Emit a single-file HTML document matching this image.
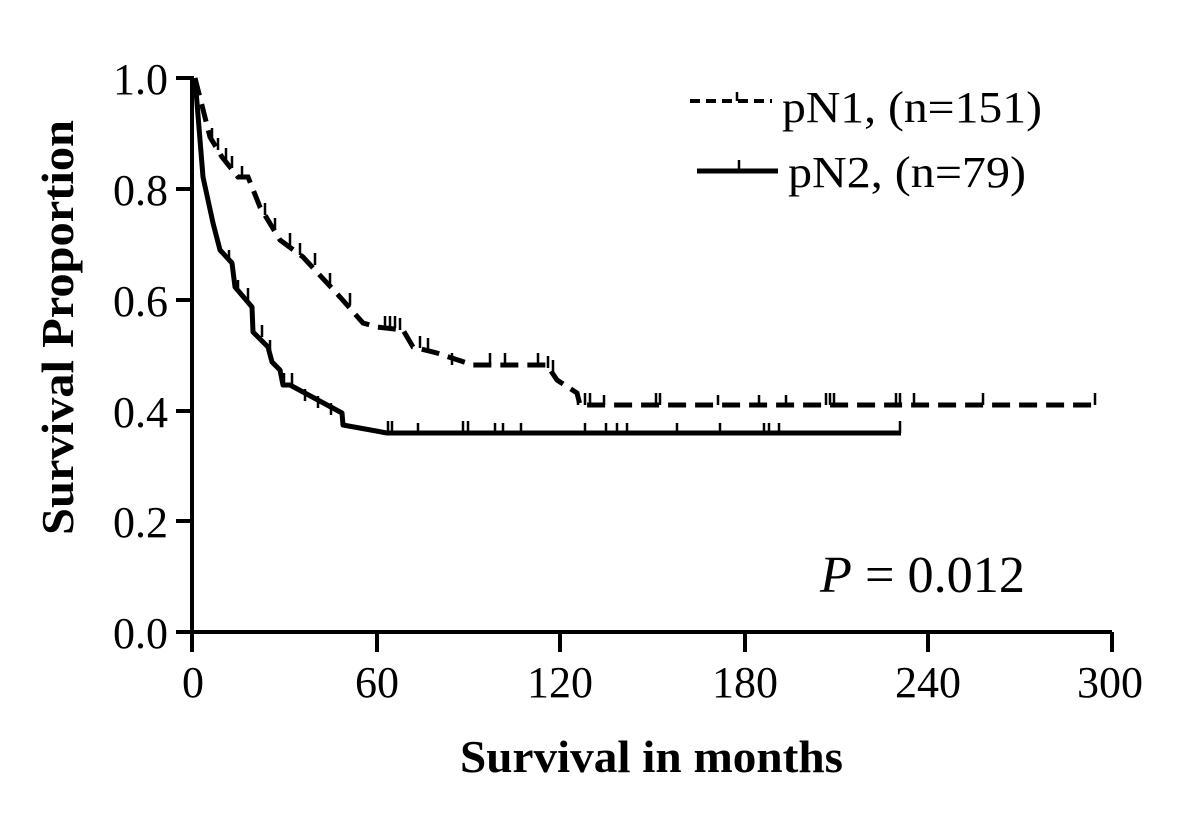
<!DOCTYPE html>
<html><head><meta charset="utf-8"><style>
body{margin:0;background:#fff}
svg{display:block}
text{font-family:"Liberation Serif",serif;fill:#000}
</style></head><body>
<svg width="1200" height="824" viewBox="0 0 1200 824">
<g stroke="#000" stroke-width="4" fill="none">
<path d="M192 76 V652"/>
<path d="M192 632 H1112"/>
<path d="M176 78 H192 M176 189 H192 M176 300 H192 M176 411 H192 M176 521 H192 M176 632 H192"/>
<path d="M192 632 V652 M377 632 V652 M560 632 V652 M745 632 V652 M928 632 V652 M1112 632 V652"/>
</g>
<g stroke="#000" stroke-width="5" fill="none" stroke-linejoin="round">
<polyline points="195,78 203,177 213,223 220,250 232,263 235,287 252,307 253,332 268,347 272,362 280,370 283,385 290,385 342,413 343,425 387,433 901,433"/>
</g>
<g stroke="#000" stroke-width="2.5">
<path d="M388 433v-12 M392 433v-12 M418 433v-10 M463 433v-12 M468 433v-12 M495 433v-10 M503 433v-10 M521 433v-10 M585 433v-10 M606 433v-10 M617 433v-10 M627 433v-10 M677 433v-10 M720 433v-10 M764 433v-10 M769 433v-10 M779 433v-10 M900 433v-12 M343 425v-12 M331 415v-12 M318 408v-12 M305 401v-12 M284 385v-12 M292 385v-12 M262 337v-12 M270 350v-10 M248 300v-12 M238 290v-10 M229 260v-10"/>
</g>
<g stroke="#000" stroke-width="5" fill="none" stroke-dasharray="18 9">
<polyline points="195,78 210,137 222,157 238,177 248,177 260,207 280,240 303,257 340,297 363,323 377,327 403,330 413,347 437,353 473,365 547,365 557,380 577,393 580,405 1095,405"/>
</g>
<g stroke="#000" stroke-width="2.5">
<path d="M212 140v-12 M218 150v-12 M226 160v-12 M232 168v-12 M242 178v-12 M265 215v-12 M275 230v-12 M290 245v-12 M300 255v-12 M315 265v-12 M330 285v-12 M350 305v-12 M385 328v-12 M390 328v-12 M395 328v-12 M400 330v-12 M420 348v-12 M428 350v-12 M452 365v-12 M490 365v-12 M505 365v-12 M538 365v-12 M548 368v-12 M553 372v-12 M578 405v-12 M585 405v-12 M590 405v-12 M604 405v-10 M656 405v-12 M660 405v-12 M718 405v-10 M759 405v-10 M786 405v-10 M826 405v-12 M830 405v-12 M834 405v-12 M896 405v-12 M900 405v-12 M914 405v-12 M983 405v-12 M1095 405v-12"/>
</g>
<line x1="690" y1="101" x2="772" y2="101" stroke="#000" stroke-width="4" stroke-dasharray="10 6"/>
<line x1="737" y1="101" x2="737" y2="92" stroke="#000" stroke-width="2.5"/>
<text x="782" y="122" font-size="44" textLength="260" lengthAdjust="spacingAndGlyphs">pN1, (n=151)</text>
<line x1="697" y1="171" x2="778" y2="171" stroke="#000" stroke-width="5"/>
<line x1="739" y1="171" x2="739" y2="160" stroke="#000" stroke-width="2.5"/>
<text x="788" y="187" font-size="44" textLength="238" lengthAdjust="spacingAndGlyphs">pN2, (n=79)</text>
<g font-size="44" text-anchor="end">
<text x="168" y="94">1.0</text>
<text x="168" y="205">0.8</text>
<text x="168" y="316">0.6</text>
<text x="168" y="427">0.4</text>
<text x="168" y="537">0.2</text>
<text x="168" y="648">0.0</text>
</g>
<g font-size="44" text-anchor="middle">
<text x="193" y="697">0</text>
<text x="377" y="697">60</text>
<text x="560" y="697">120</text>
<text x="745" y="697">180</text>
<text x="928" y="697">240</text>
<text x="1110" y="697">300</text>
</g>
<text x="820" y="592" font-size="52" textLength="205" lengthAdjust="spacingAndGlyphs"><tspan font-style="italic">P</tspan> = 0.012</text>
<text x="460" y="772" font-size="45" font-weight="bold" textLength="383" lengthAdjust="spacingAndGlyphs">Survival in months</text>
<text transform="translate(73,535) rotate(-90)" font-size="46" font-weight="bold" textLength="415" lengthAdjust="spacingAndGlyphs">Survival Proportion</text>
</svg>
</body></html>
